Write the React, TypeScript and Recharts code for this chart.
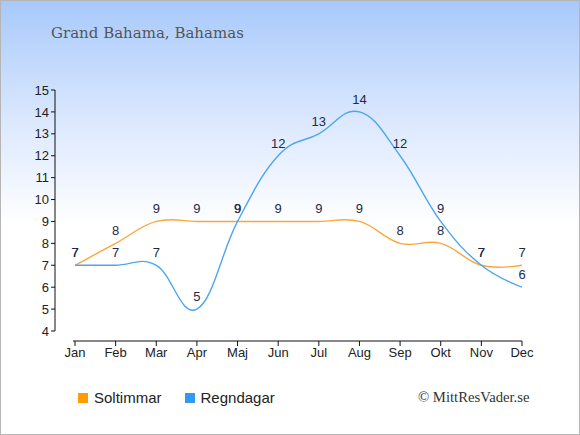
import React from 'react';
import { LineChart, Line, XAxis, YAxis, ReferenceLine, LabelList } from 'recharts';

const months = ['Jan', 'Feb', 'Mar', 'Apr', 'Maj', 'Jun', 'Jul', 'Aug', 'Sep', 'Okt', 'Nov', 'Dec'];
const soltimmar = [7, 8, 9, 9, 9, 9, 9, 9, 8, 8, 7, 7];
const regndagar = [7, 7, 7, 5, 9, 12, 13, 14, 12, 9, 7, 6];
const yTicks = [4, 5, 6, 7, 8, 9, 10, 11, 12, 13, 14, 15];
const xTicks = months.map((_, i) => i);

const ORANGE = '#fba73c';
const BLUE = '#4da6f0';
const LABEL = '#1c2a48';
const AXIS = '#111';

const X_MIN = -0.492;
const Y_MIN = 3.543;

const data = months.map((m, i) => ({ i, month: m, sol: soltimmar[i], regn: regndagar[i] }));

// old-style spline (smoothing 1.5, no overshoot cap)
function splineCurve(ctx: any) {
  let pts: [number, number][] = [];
  return {
    areaStart() {},
    areaEnd() {},
    lineStart() {
      pts = [];
    },
    point(x: number, y: number) {
      pts.push([+x, +y]);
    },
    lineEnd() {
      const n = pts.length;
      if (!n) return;
      const sm = 1.5;
      const den = sm + 1;
      const lc: [number, number][] = [];
      const rc: [number, number][] = [];
      for (let k = 0; k < n; k++) {
        const [x, y] = pts[k];
        if (k > 0 && k < n - 1) {
          const [px, py] = pts[k - 1];
          const [nx, ny] = pts[k + 1];
          const lx = (sm * x + px) / den;
          let ly = (sm * y + py) / den;
          const rx = (sm * x + nx) / den;
          let ry = (sm * y + ny) / den;
          let corr = 0;
          if (rx !== lx) corr = ((ry - ly) * (rx - x)) / (rx - lx) + y - ry;
          ly += corr;
          ry += corr;
          lc[k] = [lx, ly];
          rc[k] = [rx, ry];
        } else {
          lc[k] = [x, y];
          rc[k] = [x, y];
        }
      }
      ctx.moveTo(pts[0][0], pts[0][1]);
      for (let k = 1; k < n; k++) {
        ctx.bezierCurveTo(rc[k - 1][0], rc[k - 1][1], lc[k][0], lc[k][1], pts[k][0], pts[k][1]);
      }
    },
  };
}

const labelStyle = { fill: LABEL, fontSize: 13, fontFamily: 'Liberation Sans, Arial, sans-serif' };

function LegendItem({ color, text, gap }: { color: string; text: string; gap: number }) {
  return (
    <span style={{ display: 'inline-flex', alignItems: 'center', marginRight: gap }}>
      <span style={{ width: 10, height: 10, background: color, display: 'inline-block', marginRight: 6 }} />
      {text}
    </span>
  );
}

export default function App() {
  return (
    <div
      style={{
        position: 'fixed',
        left: 0,
        top: 0,
        width: 580,
        height: 435,
        background: 'linear-gradient(to bottom, #a7c9fb 0px, #dbe8fe 120px, #ffffff 225px, #ffffff 435px)',
        fontFamily: 'Liberation Sans, Arial, sans-serif',
      }}
    >
      <div
        style={{
          position: 'absolute',
          left: 51,
          top: 24,
          fontFamily: 'DejaVu Serif, Georgia, serif',
          fontSize: 15,
          color: '#555',
        }}
      >
        Grand Bahama, Bahamas
      </div>
      <LineChart width={580} height={435} data={data} margin={{ top: 90, right: 58, bottom: 64, left: 15 }}>
        <XAxis
          type="number"
          dataKey="i"
          domain={[X_MIN, 11]}
          ticks={xTicks}
          tickFormatter={(v: number) => months[v]}
          axisLine={false}
          tickLine={{ stroke: AXIS }}
          tickSize={5}
          height={30}
          tick={{ fill: '#222', fontSize: 13 }}
          allowDataOverflow
        />
        <YAxis
          type="number"
          domain={[Y_MIN, 15]}
          ticks={yTicks}
          axisLine={false}
          tickLine={{ stroke: AXIS }}
          tickSize={4}
          width={40}
          tick={{ fill: '#222', fontSize: 13 }}
          allowDataOverflow
        />
        <ReferenceLine segment={[{ x: X_MIN, y: 4 }, { x: X_MIN, y: 15 }]} stroke={AXIS} ifOverflow="visible" />
        <ReferenceLine segment={[{ x: -0.05, y: Y_MIN }, { x: 11, y: Y_MIN }]} stroke={AXIS} ifOverflow="visible" />
        <Line
          dataKey="sol"
          type={splineCurve as any}
          stroke={ORANGE}
          strokeWidth={1.4}
          dot={false}
          isAnimationActive={false}
        >
          <LabelList dataKey="sol" position="top" offset={8} style={labelStyle} />
        </Line>
        <Line
          dataKey="regn"
          type={splineCurve as any}
          stroke={BLUE}
          strokeWidth={1.4}
          dot={false}
          isAnimationActive={false}
        >
          <LabelList dataKey="regn" position="top" offset={8} style={labelStyle} />
        </Line>
      </LineChart>
      <div style={{ position: 'absolute', left: 78, top: 389, fontSize: 15, color: '#222', display: 'flex' }}>
        <LegendItem color="#ff9c00" text="Soltimmar" gap={23} />
        <LegendItem color="#3399ee" text="Regndagar" gap={0} />
      </div>
      <div
        style={{
          position: 'absolute',
          left: 418,
          top: 389,
          fontFamily: 'Liberation Serif, Georgia, serif',
          fontSize: 14.7,
          color: '#333',
        }}
      >
        © MittResVader.se
      </div>
      <div
        style={{
          position: 'absolute',
          left: 0,
          top: 0,
          width: 580,
          height: 435,
          boxSizing: 'border-box',
          border: '1px solid #b5b5b5',
          pointerEvents: 'none',
        }}
      />
    </div>
  );
}
